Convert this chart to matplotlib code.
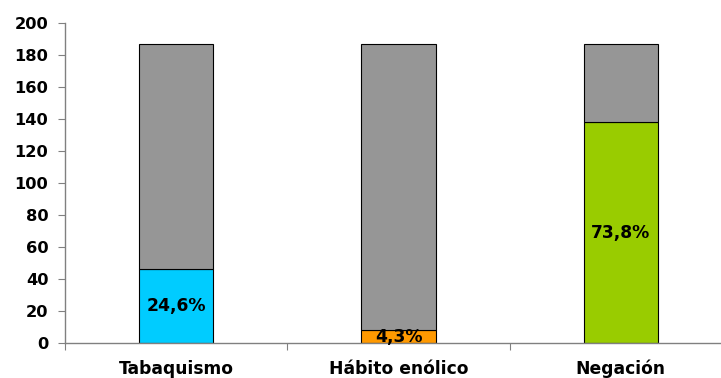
import matplotlib
matplotlib.use("Agg")
import matplotlib.pyplot as plt
import numpy as np

categories = ["Tabaquismo", "Hábito enólico", "Negación"]
values = [46, 8, 138]
total = 187
labels = ["24,6%", "4,3%", "73,8%"]
colors = ["#00CCFF", "#FF9900", "#99CC00"]
rest_color = "#969696"
yticks = [0, 20, 40, 60, 80, 100, 120, 140, 160, 180, 200]

plt.rcParams['font.family'] = ['DejaVu Sans']
fig = plt.figure(figsize=(7.21, 3.78), dpi=100)
ax = fig.add_axes([65/721, 1-343/378, 667/721, 320/378])

x = np.arange(len(categories))
rest = [total - v for v in values]
ax.bar(x, values, width=0.333, color=colors, edgecolor="black", linewidth=0.8)
ax.bar(x, rest, bottom=values, width=0.333, color=rest_color, edgecolor="black", linewidth=0.8)
for xi, v, lab in zip(x, values, labels):
    ax.text(xi, v/2, lab, ha="center", va="center", fontsize=12.3, fontweight="bold")

ax.set_xlim(-0.5, 2.5)
ax.set_ylim(0, 200)
ax.set_yticks(yticks)
ax.set_yticklabels([str(t) for t in yticks], fontsize=11.7, fontweight="bold")
ax.set_xticks([-0.5, 0.5, 1.5, 2.5])
ax.set_xticklabels([])
ax.set_xticks(x, minor=True)
ax.set_xticklabels(categories, minor=True, fontsize=12.3, fontweight="bold")
for t in ax.get_xticklabels(minor=True):
    t.set_verticalalignment("baseline")
ax.tick_params(axis="x", which="minor", length=0, pad=22.5)
ax.tick_params(axis="x", which="major", length=5, color="#808080", direction="out")
ax.tick_params(axis="y", length=5, color="#808080", direction="out", pad=7)
for s in ["top", "right"]:
    ax.spines[s].set_visible(False)
for s in ["left", "bottom"]:
    ax.spines[s].set_color("#808080")
    ax.spines[s].set_linewidth(1)

fig.savefig("out.png", dpi=100)
